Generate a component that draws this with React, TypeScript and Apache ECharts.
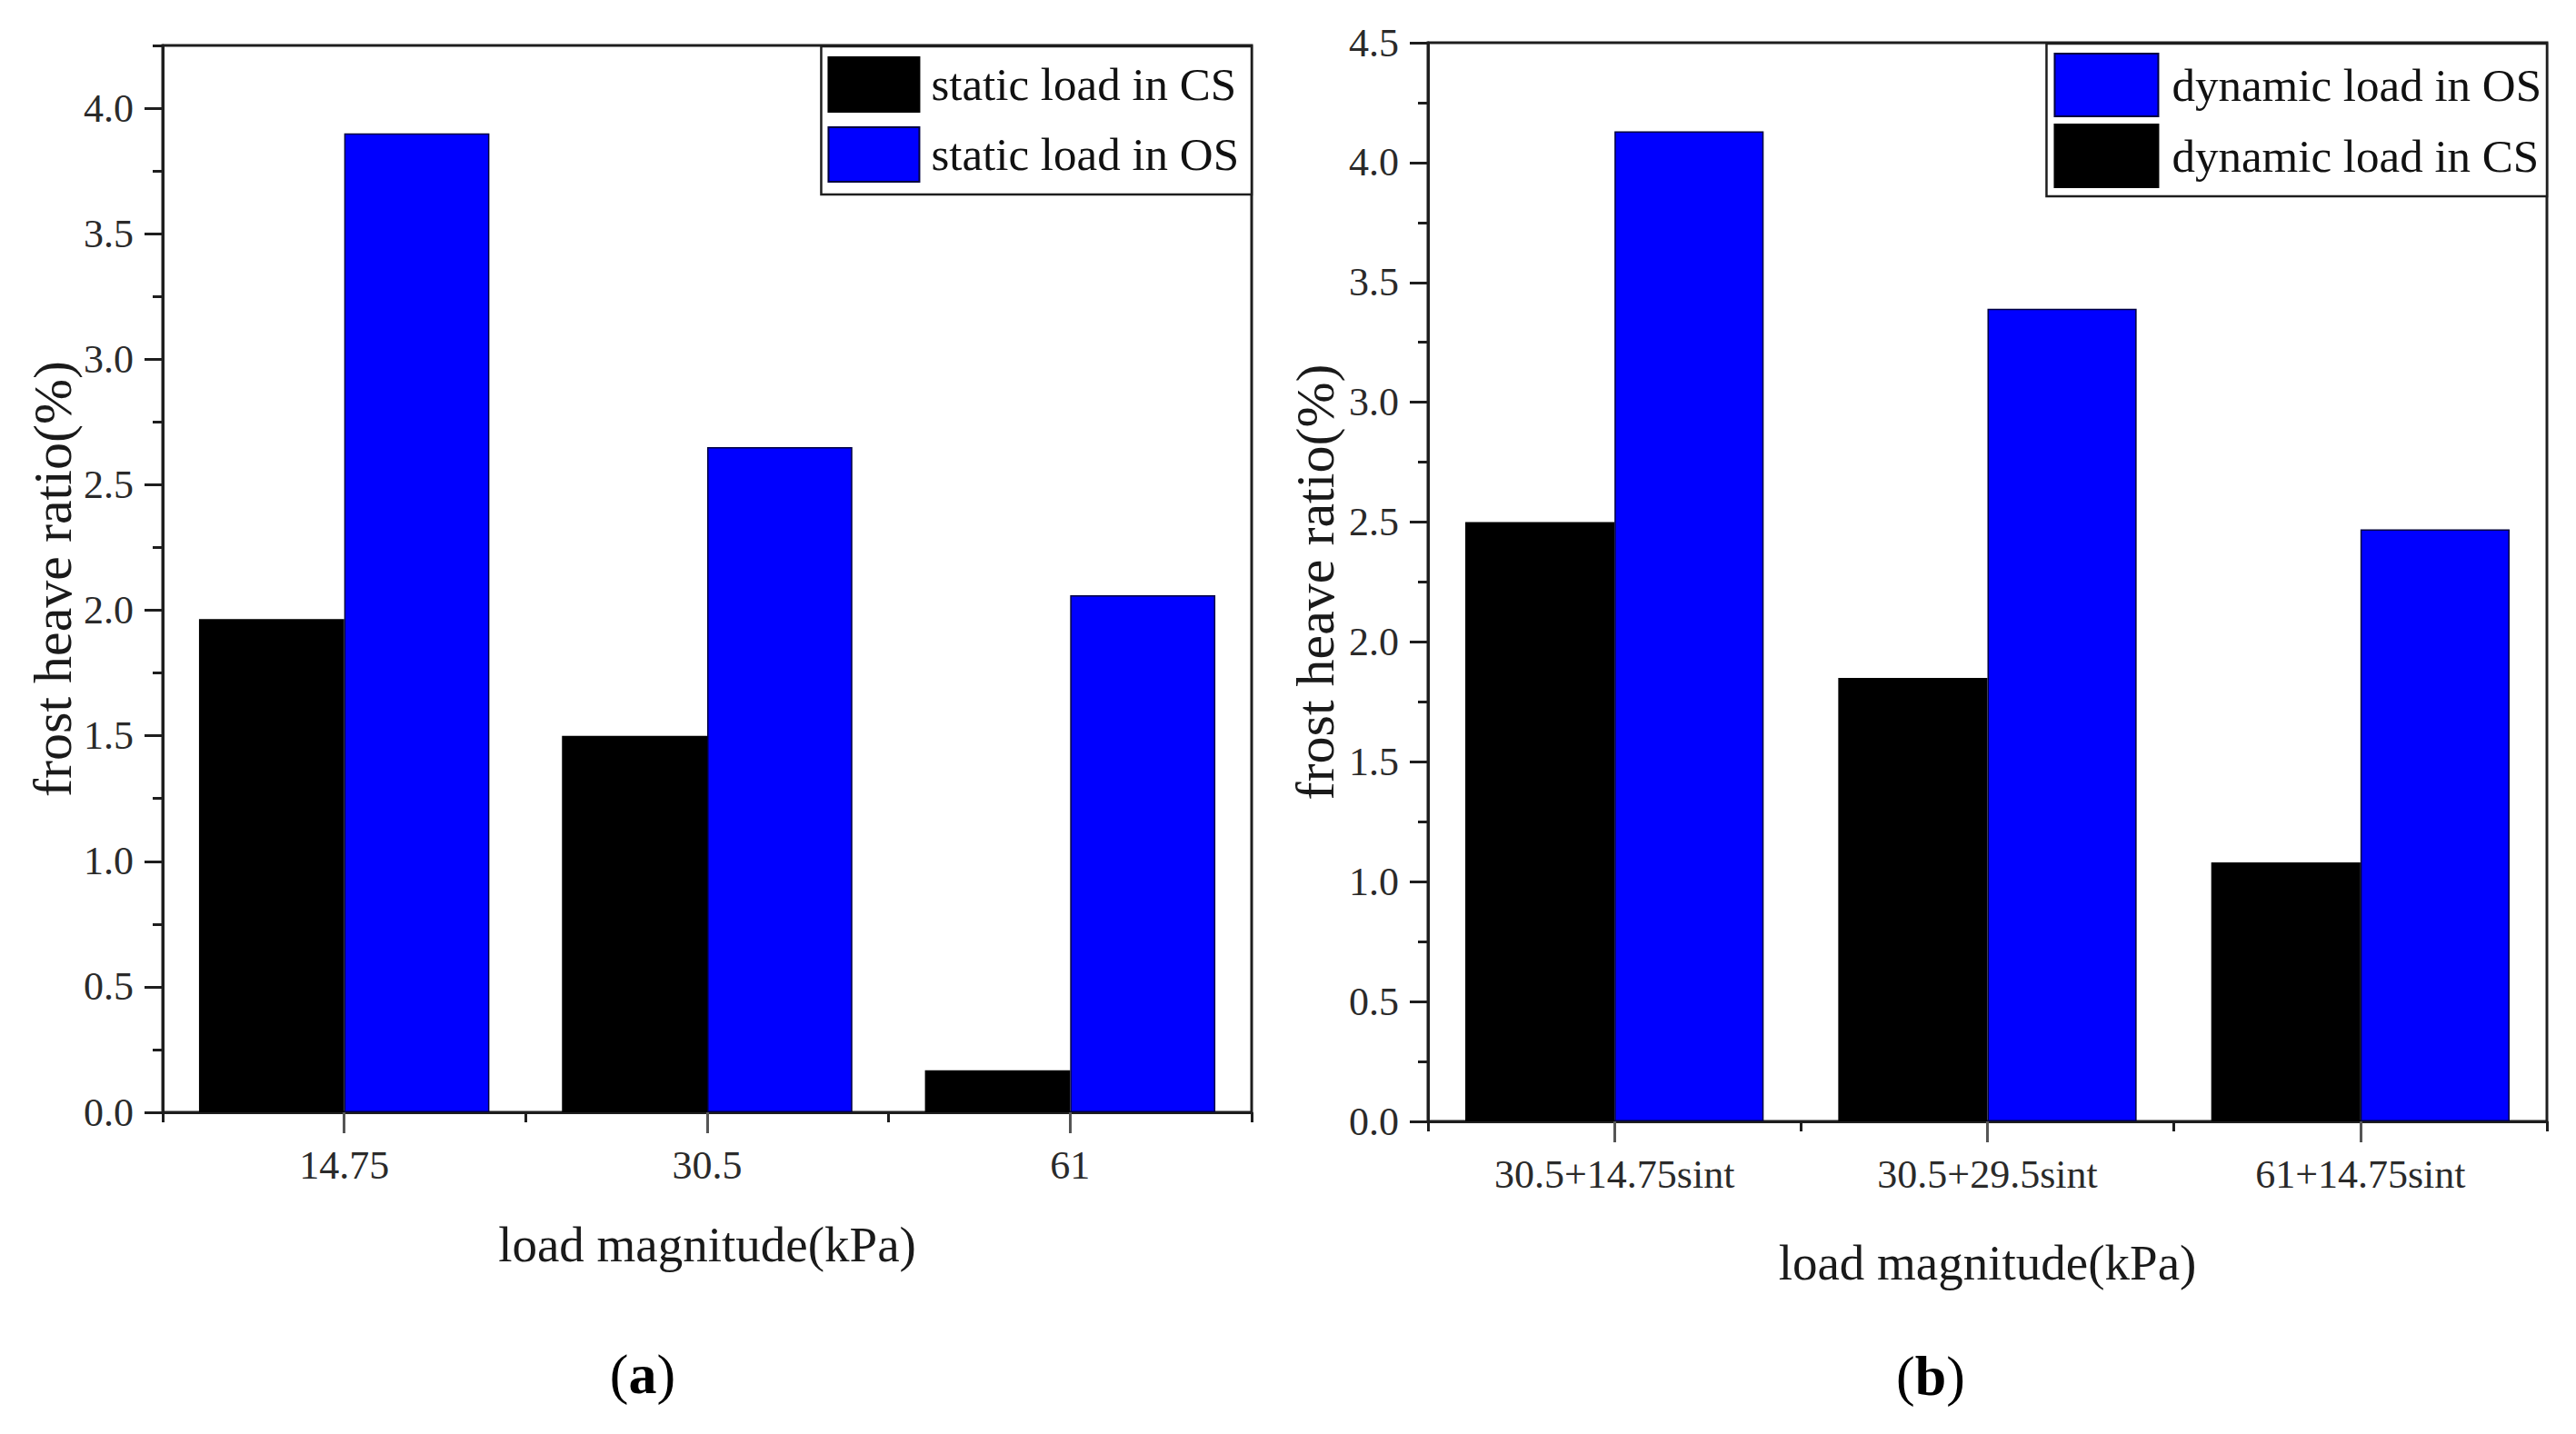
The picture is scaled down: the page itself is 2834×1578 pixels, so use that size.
import React, { useEffect, useRef } from "react";
import * as echarts from "echarts";

const catsA = ["14.75", "30.5", "61"];
const staticCS = [1.965, 1.5, 0.167];
const staticOS = [3.9, 2.65, 2.06];

const catsB = ["30.5+14.75sint", "30.5+29.5sint", "61+14.75sint"];
const dynCS = [2.5, 1.85, 1.08];
const dynOS = [4.13, 3.39, 2.47];

const legendA = ["static load in CS", "static load in OS"];
const legendB = ["dynamic load in OS", "dynamic load in CS"];

const xTitle = "load magnitude(kPa)";
const yTitle = "frost heave ratio(%)";

const W = 2834;
const H = 1578;
const FONT = "'Liberation Serif', 'Times New Roman', serif";
const AX = "#1e1e1e";
const BLUE = "#0000ff";
const BLACK = "#000000";

export default function App() {
  const ref = useRef<HTMLDivElement>(null);
  useEffect(() => {
    if (!ref.current) return;
    const chart = echarts.init(ref.current, null, { renderer: "svg", width: W, height: H });

    const grids = [
      { left: 179, top: 50, width: 1198, height: 1174 },
      { left: 1571, top: 47, width: 1231, height: 1187 },
    ].map((g) => ({ ...g, show: true, borderColor: AX, borderWidth: 3, backgroundColor: "transparent" }));

    const mkX = (gi: number, cats: string[], nameGap: number) => [
      {
        type: "category",
        gridIndex: gi,
        position: "bottom",
        data: cats,
        boundaryGap: true,
        axisLine: { show: true, lineStyle: { color: AX, width: 3 } },
        axisTick: { show: true, alignWithLabel: true, length: 23, lineStyle: { color: "#555", width: 3 } },
        axisLabel: { fontFamily: FONT, fontSize: 44, color: "#2a2a2a", margin: 36 },
        splitLine: { show: false },
        name: xTitle,
        nameLocation: "middle",
        nameGap,
        nameTextStyle: { fontFamily: FONT, fontSize: 55, color: "#1a1a1a" },
      },
      {
        type: "category",
        gridIndex: gi,
        position: "bottom",
        offset: 0,
        data: cats,
        boundaryGap: true,
        axisLine: { show: false },
        axisTick: { show: true, alignWithLabel: false, interval: 0, length: 11, lineStyle: { color: AX, width: 3 } },
        axisLabel: { show: false },
        splitLine: { show: false },
      },
    ];

    const mkY = (gi: number, max: number, nameGap: number) => [
      {
        type: "value",
        gridIndex: gi,
        position: "left",
        min: 0,
        max,
        interval: 0.5,
        axisLine: { show: true, lineStyle: { color: AX, width: 3 } },
        axisTick: { show: true, length: 20, lineStyle: { color: AX, width: 3 } },
        axisLabel: {
          fontFamily: FONT,
          fontSize: 44,
          color: "#2a2a2a",
          margin: 32,
          showMaxLabel: max === 4.5,
          formatter: (v: number) => v.toFixed(1),
        },
        splitLine: { show: false },
        name: yTitle,
        nameLocation: "middle",
        nameGap,
        nameTextStyle: { fontFamily: FONT, fontSize: 60, color: "#1a1a1a" },
      },
      {
        type: "value",
        gridIndex: gi,
        position: "left",
        offset: 0,
        min: 0,
        max,
        interval: 0.25,
        axisLine: { show: false },
        axisTick: { show: true, length: 11, lineStyle: { color: AX, width: 3 } },
        axisLabel: { show: false },
        splitLine: { show: false },
      },
    ];

    const bar = (name: string, data: number[], color: string, xi: number, yi: number) => ({
      type: "bar",
      name,
      data,
      xAxisIndex: xi,
      yAxisIndex: yi,
      barGap: "0%",
      barCategoryGap: "20%",
      itemStyle: { color, borderColor: color === BLUE ? "#000040" : "#000", borderWidth: 1.5 },
    });

    const legendCommon = {
      orient: "vertical",
      backgroundColor: "#fff",
      borderColor: AX,
      borderWidth: 2.5,
      itemGap: 15,
      selectedMode: false,
      icon: "rect",
    };

    chart.setOption({
      animation: false,
      backgroundColor: "#fff",
      grid: grids,
      xAxis: [...mkX(0, catsA, 118), ...mkX(1, catsB, 128)],
      yAxis: [...mkY(0, 4.25, 88), ...mkY(1, 4.5, 94)],
      legend: [
        {
          ...legendCommon,
          data: legendA,
          right: W - 1377,
          top: 51,
          itemWidth: 100,
          itemHeight: 60,
          itemGap: 15,
          padding: [11, 14, 13, 7],
          textStyle: { fontFamily: FONT, fontSize: 51, color: "#111", padding: [0, 0, 0, 8] },
        },
        {
          ...legendCommon,
          data: legendB,
          right: W - 2802,
          top: 48,
          itemWidth: 114,
          itemHeight: 69,
          itemGap: 7,
          padding: [10, 6, 9, 8],
          textStyle: { fontFamily: FONT, fontSize: 51, color: "#111", padding: [0, 0, 0, 10] },
        },
      ],
      series: [
        bar(legendA[0], staticCS, BLACK, 0, 0),
        bar(legendA[1], staticOS, BLUE, 0, 0),
        bar(legendB[1], dynCS, BLACK, 2, 2),
        bar(legendB[0], dynOS, BLUE, 2, 2),
      ],
      graphic: [
        {
          type: "text",
          x: 707,
          y: 1512,
          style: {
            text: "{p|(}{b|a}{p|)}",
            textAlign: "center",
            textVerticalAlign: "middle",
            rich: {
              p: { fontFamily: FONT, fontSize: 62, color: "#000" },
              b: { fontFamily: FONT, fontSize: 62, fontWeight: "bold", color: "#000" },
            },
          },
        },
        {
          type: "text",
          x: 2124,
          y: 1514,
          style: {
            text: "{p|(}{b|b}{p|)}",
            textAlign: "center",
            textVerticalAlign: "middle",
            rich: {
              p: { fontFamily: FONT, fontSize: 62, color: "#000" },
              b: { fontFamily: FONT, fontSize: 62, fontWeight: "bold", color: "#000" },
            },
          },
        },
      ],
    });
    return () => chart.dispose();
  }, []);
  return (
    <div
      ref={ref}
      style={{ position: "fixed", left: 0, top: 0, width: W, height: H, background: "#fff" }}
    />
  );
}
